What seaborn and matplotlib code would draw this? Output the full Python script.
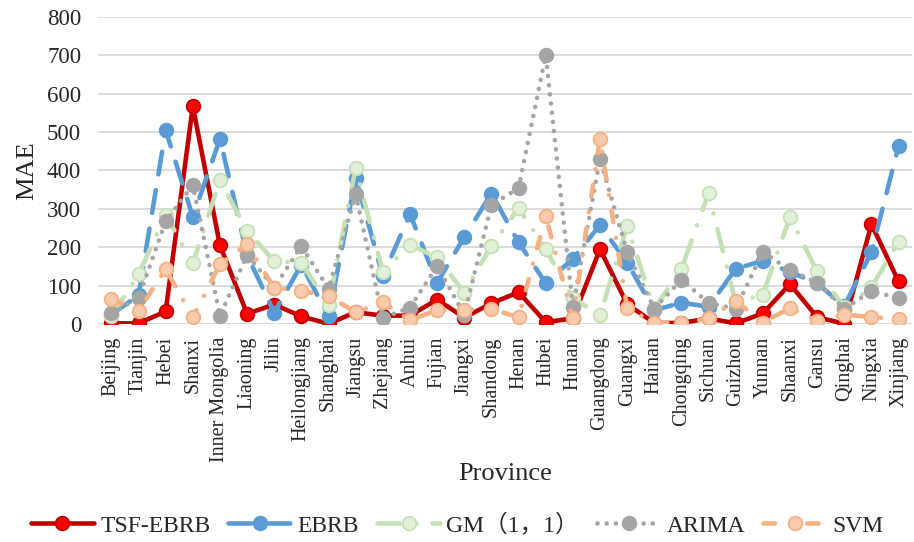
import numpy as np
import pandas as pd
import matplotlib
matplotlib.use("Agg")
import matplotlib.pyplot as plt
import seaborn as sns
from matplotlib.lines import Line2D

provinces = ["Beijing", "Tianjin", "Hebei", "Shanxi", "Inner Mongolia", "Liaoning", "Jilin",
             "Heilongjiang", "Shanghai", "Jiangsu", "Zhejiang", "Anhui", "Fujian", "Jiangxi",
             "Shandong", "Henan", "Hubei", "Hunan", "Guangdong", "Guangxi", "Hainan",
             "Chongqing", "Sichuan", "Guizhou", "Yunnan", "Shaanxi", "Gansu", "Qinghai",
             "Ningxia", "Xinjiang"]

tsf_ebrb = [2, 2, 33, 567, 205, 27, 51, 20, 1, 31, 22, 22, 64, 17, 54, 83, 5, 15, 195, 52,
            3, 3, 15, 2, 28, 104, 18, 1, 260, 111]
ebrb = [25, 75, 505, 279, 482, 180, 30, 155, 20, 380, 125, 287, 107, 227, 340, 213, 107, 170,
        258, 160, 36, 56, 45, 144, 165, 136, 106, 47, 188, 464]
gm11 = [20, 130, 284, 159, 375, 243, 164, 160, 50, 406, 136, 206, 174, 82, 203, 302, 195, 68,
        23, 255, 40, 144, 341, 55, 77, 279, 137, 45, 96, 214]
arima = [28, 68, 268, 362, 22, 180, 95, 203, 92, 338, 16, 43, 151, 25, 310, 354, 700, 45,
         430, 188, 40, 116, 55, 40, 188, 140, 108, 40, 86, 68]
svm = [65, 35, 143, 18, 156, 208, 94, 87, 73, 31, 57, 10, 37, 37, 39, 18, 281, 16, 482, 42,
       4, 3, 15, 60, 4, 42, 9, 25, 18, 13]

series_names = ["TSF-EBRB", "EBRB", "GM（1，1）", "ARIMA", "SVM"]
series_values = [tsf_ebrb, ebrb, gm11, arima, svm]

rows = []
for name, vals in zip(series_names, series_values):
    for i, v in enumerate(vals):
        rows.append({"model": name, "idx": i, "province": provinces[i], "MAE": v})
df = pd.DataFrame(rows)

sns.set_theme(style="white")
plt.rcParams["font.family"] = ["Liberation Serif", "Noto Sans CJK SC", "DejaVu Sans"]

styles = {
    "TSF-EBRB": dict(color="#C00000", mfc="#FF0000", mec="#C00000", ls="-"),
    "EBRB": dict(color="#5B9BD5", mfc="#5B9BD5", mec="#5B9BD5", ls=(0, (5, 3.5))),
    "GM（1，1）": dict(color="#C5E0B4", mfc="#E2F0D9", mec="#C5E0B4", ls=(0, (5, 3.5, 0.01, 3.5))),
    "ARIMA": dict(color="#A5A5A5", mfc="#A5A5A5", mec="#A5A5A5", ls=(0, (0.01, 2.0))),
    "SVM": dict(color="#F4B183", mfc="#F8CBAD", mec="#F4B183", ls=(0, (2.5, 3.5, 0.01, 3.5))),
}

fig = plt.figure(figsize=(9.14, 5.42), dpi=100)
ax = fig.add_axes([0.107, 0.402, 0.891, 0.567])

LW = 3.3
MS = 9.8
for name in series_names:
    st = styles[name]
    sub = df[df["model"] == name]
    sns.lineplot(data=sub, x="idx", y="MAE", ax=ax, color=st["color"], linewidth=LW,
                 linestyle=st["ls"], dash_capstyle="round", solid_capstyle="round",
                 marker="o", markersize=MS, markerfacecolor=st["mfc"],
                 markeredgecolor=st["mec"], markeredgewidth=1.3, legend=False)

ax.set_xlim(-0.5, len(provinces) - 0.5)
ax.set_ylim(0, 800)
ax.set_yticks(np.arange(0, 801, 100))
ax.set_xticks(range(len(provinces)))
ax.set_xticklabels(provinces, rotation=90, fontsize=14.5)
ax.tick_params(axis="y", labelsize=16.5, length=0, pad=12)
ax.tick_params(axis="x", length=0, pad=9)
ax.grid(axis="y", color="#D9D9D9", linewidth=1.3)
ax.set_axisbelow(True)
for sp in ax.spines.values():
    sp.set_visible(False)
ax.set_xlabel("Province", fontsize=19, labelpad=1)
ax.set_ylabel("MAE", fontsize=19, labelpad=6)

handles = []
for name in series_names:
    st = styles[name]
    handles.append(Line2D([0], [0], color=st["color"], linewidth=LW, linestyle=st["ls"],
                          dash_capstyle="round", marker="o", markersize=MS,
                          markerfacecolor=st["mfc"], markeredgecolor=st["mec"],
                          markeredgewidth=1.3))
fig.legend(handles, series_names, loc="center", bbox_to_anchor=(0.5, 0.031), ncol=5,
           frameon=False, fontsize=17, handlelength=2.7, handletextpad=0.25,
           columnspacing=0.75)

fig.savefig("out.png", dpi=100)
